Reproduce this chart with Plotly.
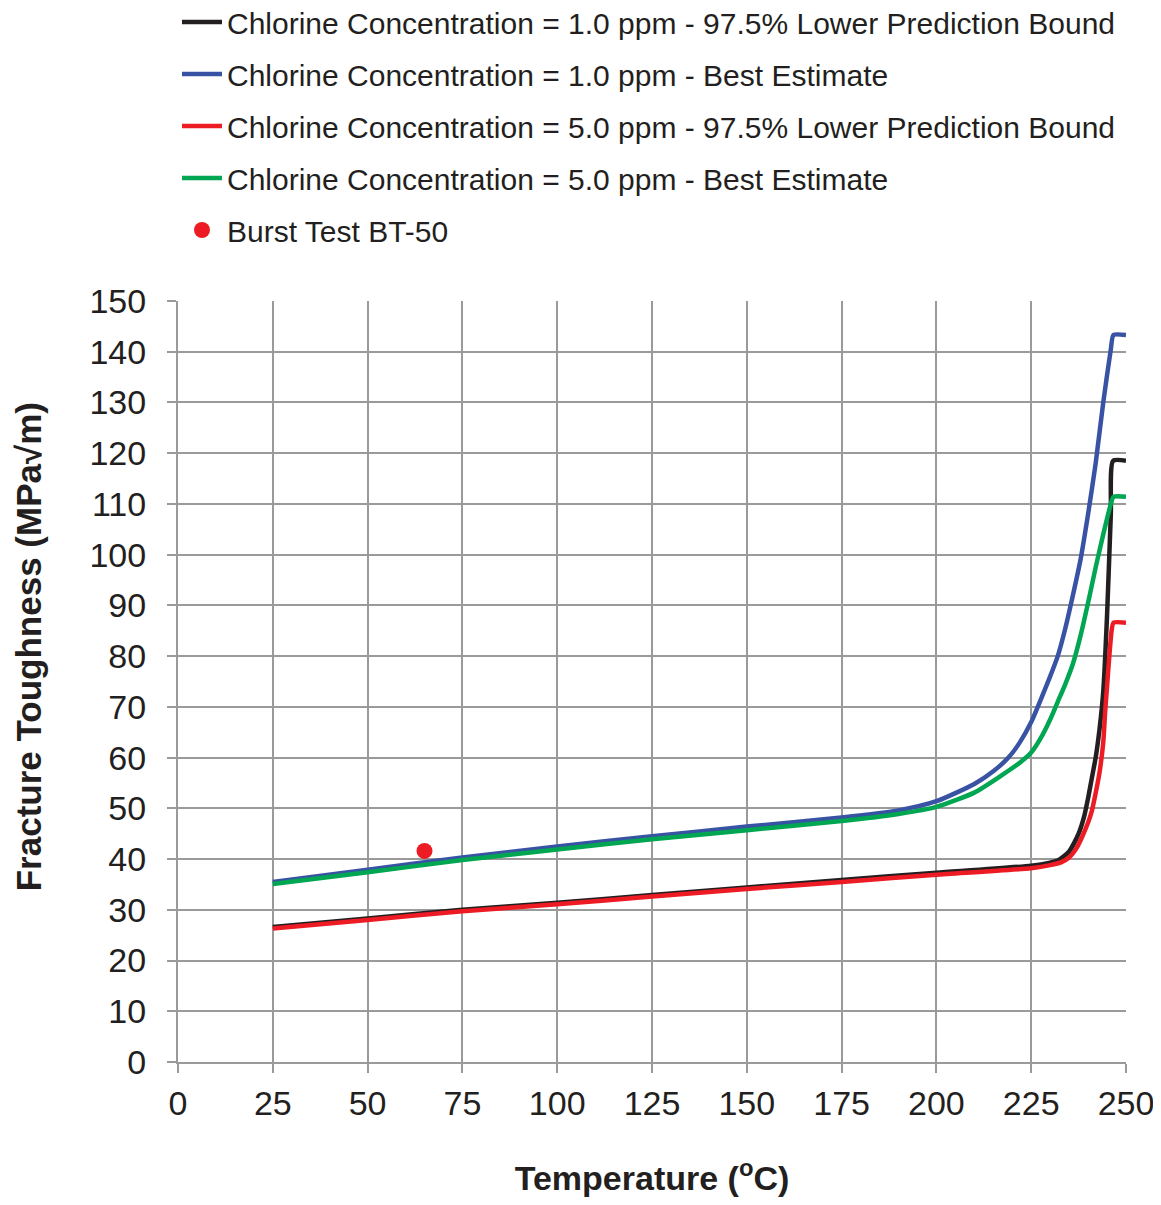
import plotly.graph_objects as go

# 1.0 ppm - 97.5% lower prediction bound (black)
t_lb1 = [25, 50, 75, 100, 125, 150, 175, 200, 225, 230, 232, 235, 237.5, 239, 240, 241, 242, 243, 244, 245, 246, 246.6, 250]
k_lb1 = [26.6, 28.3, 30.0, 31.4, 32.9, 34.4, 35.9, 37.3, 38.7, 39.3, 39.7, 41.5, 45.0, 48.5, 52.0, 56.0, 60.0, 65.5, 73.0, 88.0, 108.0, 118.5, 118.5]

# 1.0 ppm - best estimate (blue)
t_be1 = [25, 50, 75, 100, 125, 150, 175, 190, 200, 210, 215, 219, 222, 225, 228, 230, 232, 234, 236, 238, 240, 242, 244, 246, 246.7, 250]
k_be1 = [35.5, 37.9, 40.3, 42.5, 44.5, 46.4, 48.2, 49.6, 51.4, 54.8, 57.3, 60.0, 63.0, 67.0, 72.3, 76.0, 80.0, 85.5, 92.0, 99.0, 108.0, 118.0, 130.0, 140.5, 143.3, 143.3]

# 5.0 ppm - 97.5% lower prediction bound (red)
t_lb5 = [25, 50, 75, 100, 125, 150, 175, 200, 225, 230, 233, 235, 237, 238.5, 240, 241, 242, 243, 244, 244.5, 245, 245.6, 246.2, 246.7, 250]
k_lb5 = [26.3, 28.0, 29.7, 31.1, 32.6, 34.1, 35.5, 36.9, 38.2, 38.8, 39.4, 40.3, 42.2, 44.5, 47.2, 49.5, 53.0, 57.0, 63.0, 69.0, 74.0, 80.0, 85.0, 86.6, 86.6]

# 5.0 ppm - best estimate (green)
t_be5 = [25, 50, 75, 100, 125, 150, 175, 190, 200, 210, 217, 222, 225, 228, 230, 232, 234, 236, 238, 240, 242, 244, 246, 246.7, 250]
k_be5 = [35.1, 37.4, 39.8, 41.9, 43.9, 45.7, 47.5, 48.9, 50.3, 53.1, 56.4, 59.0, 61.0, 64.5, 67.5, 71.0, 74.5, 78.5, 84.0, 90.5, 97.5, 104.0, 110.0, 111.4, 111.4]

# Burst test point
t_bt = [65]
k_bt = [41.6]

names = [
    "Chlorine Concentration = 1.0 ppm - 97.5% Lower Prediction Bound",
    "Chlorine Concentration = 1.0 ppm - Best Estimate",
    "Chlorine Concentration = 5.0 ppm - 97.5% Lower Prediction Bound",
    "Chlorine Concentration = 5.0 ppm - Best Estimate",
    "Burst Test BT-50",
]
colors = ["#231f20", "#3953a4", "#ed1c24", "#00a651", "#ed1c24"]

x_ticks = [0, 25, 50, 75, 100, 125, 150, 175, 200, 225, 250]
y_ticks = list(range(0, 151, 10))

fig = go.Figure()
series = [(t_lb1, k_lb1), (t_be1, k_be1), (t_lb5, k_lb5), (t_be5, k_be5)]
for i, (t, k) in enumerate(series):
    fig.add_trace(go.Scatter(x=t, y=k, mode="lines", name=names[i],
                             line=dict(color=colors[i], width=4.5, shape="spline", smoothing=0.6),
                             legendgroup=f"g{i}"))
fig.add_trace(go.Scatter(x=t_bt, y=k_bt, mode="markers", name=names[4],
                         marker=dict(color=colors[4], size=16),
                         legendgroup="g4"))

font_family = "Liberation Sans, Arial, sans-serif"
fig.update_layout(
    width=1145, height=1189,
    margin=dict(l=170, r=27, t=293, b=135, autoexpand=False),
    paper_bgcolor="white", plot_bgcolor="white",
    font=dict(family=font_family, size=34, color="#231f20"),
    showlegend=True,
    legend=dict(x=-1/948, y=1 + 305/761,
                xanchor="left", yanchor="top",
                font=dict(size=30, color="#231f20"),
                tracegroupgap=10, itemwidth=40,
                bgcolor="rgba(0,0,0,0)"),
    xaxis=dict(range=[0, 250], tickvals=x_ticks, ticktext=[str(v) for v in x_ticks],
               showgrid=True, gridcolor="#9a9a9a", gridwidth=1.5,
               showline=True, linecolor="#9a9a9a", linewidth=2, mirror=False,
               ticks="outside", ticklen=9, tickcolor="#9a9a9a", tickwidth=1.5,
               ticklabelstandoff=1, ticklabeloverflow="allow", zeroline=False,
               title=dict(text="<b>Temperature (<sup>o</sup>C)</b>", font=dict(size=34), standoff=63)),
    yaxis=dict(range=[0, 150], tickvals=y_ticks, ticktext=[str(v) for v in y_ticks],
               showgrid=True, gridcolor="#9a9a9a", gridwidth=1.5,
               showline=True, linecolor="#9a9a9a", linewidth=2,
               ticks="outside", ticklen=9, tickcolor="#9a9a9a", tickwidth=1.5,
               ticklabelstandoff=14, ticklabeloverflow="allow", zeroline=False),
    annotations=[dict(text="<b>Fracture Toughness (MPa√m)</b>", textangle=-90,
                      xref="paper", yref="paper", x=-150/948, y=0.545,
                      xanchor="center", yanchor="middle", showarrow=False,
                      font=dict(size=35, color="#231f20"))],
)
fig.write_html("out.html")
